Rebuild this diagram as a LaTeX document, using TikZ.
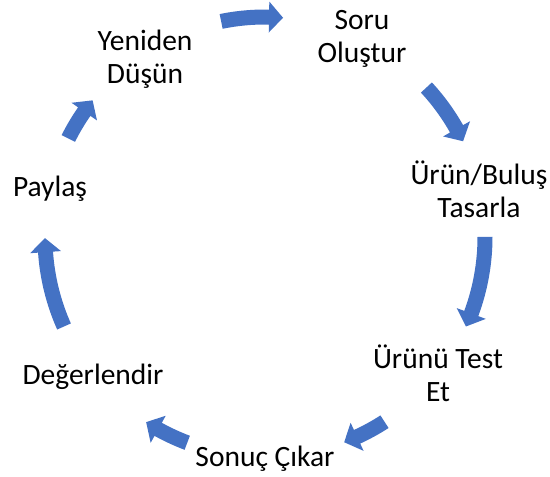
\documentclass[tikz,border=0pt]{standalone}
\usepackage{fontspec}
\setmainfont{Carlito}
\definecolor{cycblue}{HTML}{4472C4}
\tikzset{
  steplabel/.style={align=center, inner sep=0pt, text=black,
    font=\fontsize{29.5}{33}\selectfont},
  cycarrowfill/.style={fill=cycblue, draw=none}
}
% curved block arrow on the cycle circle: tail angle #1, tip angle #2 (clockwise)
\newcommand\cycarrow[2]{%
  \pgfmathsetmacro\headbase{#2+3.65}%
  \fill[cycarrowfill] (#1:227.5) arc[start angle=#1, end angle=\headbase, radius=227.5]
    -- (\headbase:235.5) -- (#2:220) -- (\headbase:204.5) -- (\headbase:212.5)
    arc[start angle=\headbase, end angle=#1, radius=212.5] -- cycle;}
\begin{document}
\begin{tikzpicture}[x=1pt,y=1pt]
\useasboundingbox (0,0) rectangle (550,477);
\node[steplabel] (soru)   at (362,438) {Soru\\Oluştur};
\node[steplabel] (urun)   at (479,288) {Ürün/Buluş\\Tasarla};
\node[steplabel] (test)   at (438,104) {Ürünü Test\\Et};
\node[steplabel] (sonuc)  at (265,18)  {Sonuç Çıkar};
\node[steplabel] (degerl) at (93,100)  {Değerlendir};
\node[steplabel] (paylas) at (50,288)  {Paylaş};
\node[steplabel] (yeni)   at (145,418) {Yeniden\\Düşün};
\begin{scope}[shift={(265,240)}]
  \cycarrow{101.5}{85.3}
  \cycarrow{42.8}{25.8}
  \cycarrow{0}{-24}
  \cycarrow{-57.1}{-68.9}
  \cycarrow{-110.7}{-122.7}
  \cycarrow{204}{180.3}
  \cycarrow{153.4}{141.6}
\end{scope}
\end{tikzpicture}
\end{document}
